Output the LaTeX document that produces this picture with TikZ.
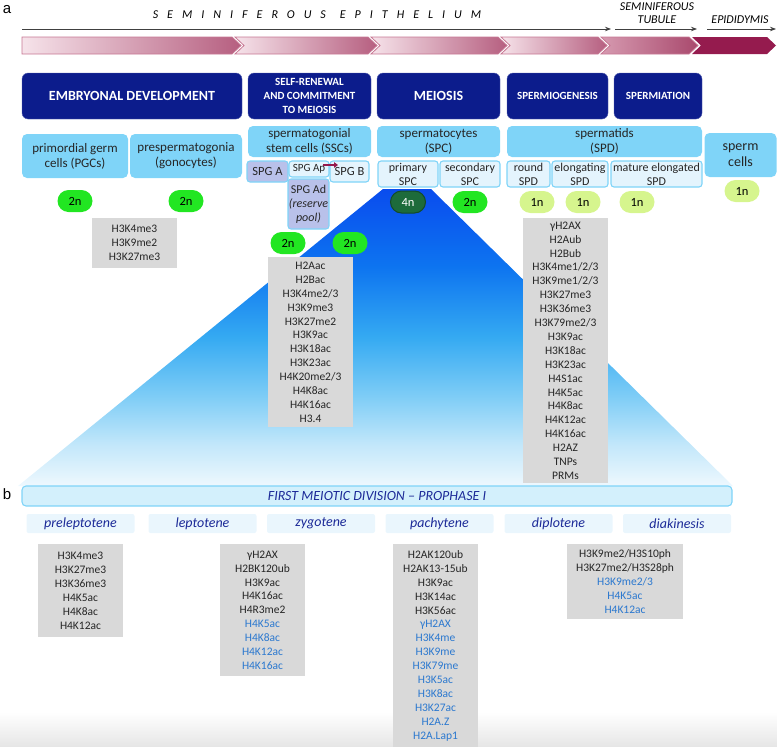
\documentclass[tikz,border=0pt]{standalone}
\usepackage{fontspec}
\setmainfont{Carlito}
\newfontfamily\panelfont{Liberation Sans}
\newfontfamily\trackfont[LetterSpace=75]{Carlito}
\usetikzlibrary{arrows.meta}

\definecolor{navy}{HTML}{0C1C8C}
\definecolor{cellblue}{HTML}{7FD4F8}
\definecolor{subblue}{HTML}{E4F4FD}
\definecolor{lavender}{HTML}{B9C1EA}
\definecolor{markgray}{HTML}{D9D9D9}
\definecolor{markblue}{HTML}{2B78CF}
\definecolor{stagetext}{HTML}{1C2A98}
\definecolor{titlefill}{HTML}{D3F0FC}
\definecolor{phasefill}{HTML}{EAF6FD}
\definecolor{green2n}{HTML}{22E622}
\definecolor{green4n}{HTML}{1D6B3B}
\definecolor{lime1n}{HTML}{D6F58E}
\definecolor{chevL}{HTML}{F6E3EA}
\definecolor{chevM}{HTML}{ECD0DA}
\definecolor{chevR}{HTML}{B65F80}
\definecolor{chevE}{HTML}{C77793}
\definecolor{tubL}{HTML}{D69AB0}
\definecolor{tubR}{HTML}{A9496D}
\definecolor{maroon}{HTML}{951B4E}
\definecolor{triA}{HTML}{EEF8FE}
\definecolor{triB}{HTML}{C2E7FA}
\definecolor{triC}{HTML}{7FCDF6}
\definecolor{triD}{HTML}{35AAF2}
\definecolor{triE}{HTML}{0D74F0}
\definecolor{triF}{HTML}{0A4CEE}

\pgfdeclareverticalshading{pyramid}{100bp}{color(0bp)=(triA); color(25bp)=(triA);
  color(32bp)=(triB); color(40bp)=(triC); color(50bp)=(triD); color(62bp)=(triE);
  color(75bp)=(triF); color(100bp)=(triF)}

\newcommand\hlb[1]{\textcolor{markblue}{#1}}

\begin{document}
\begin{tikzpicture}[x=1pt, y=-1pt,
    header/.style={rectangle, rounded corners=6pt, fill=navy, draw=navy!70!white, text=white,
      font=\bfseries\fontsize{14}{16}\selectfont, align=center, minimum height=46pt, inner sep=1pt},
    cell/.style={rectangle, rounded corners=5pt, fill=cellblue, text=black!85, align=center,
      font=\fontsize{13}{15}\selectfont, inner sep=0pt},
    subcell/.style={rectangle, rounded corners=3pt, fill=subblue, draw=cellblue, line width=1.1pt,
      text=black!85, align=center, font=\fontsize{12}{14}\selectfont, minimum height=26pt, inner sep=0pt},
    ploidy/.style={rectangle, rounded corners=11pt, minimum width=35pt, minimum height=22pt,
      inner sep=0pt, font=\fontsize{12.5}{14}\selectfont},
    diploid/.style={fill=green2n, text=black},
    tetraploid/.style={fill=green4n, draw=green4n!70!black, line width=1pt, text=white},
    haploid/.style={fill=lime1n, text=black},
    histone/.style={rectangle, fill=markgray, anchor=north, align=center, minimum width=85pt,
      inner sep=0pt, text=black!85, font=\fontsize{11.5}{13.9}\selectfont},
    phase/.style={rectangle, rounded corners=2pt, fill=phasefill, minimum width=108pt,
      minimum height=19pt, inner sep=0pt, text=stagetext, font=\itshape\fontsize{14}{16}\selectfont}]
  \useasboundingbox (0,0) rectangle (777,747);
  \shade[top color=white, bottom color=black!10] (0,712) rectangle (777,747);

  % panel a: timeline
  \node (pa) at (7,10) [font=\panelfont\fontsize{15}{17}\selectfont] {a};
  \node (epith) at (317,15) [font=\trackfont\itshape\fontsize{12}{14}\selectfont]
    {SEMINIFEROUS\hspace{14pt}EPITHELIUM};
  \node (tubule) at (657,13) [align=center, font=\itshape\fontsize{12}{13}\selectfont] {SEMINIFEROUS\\TUBULE};
  \node (epid) at (740,20) [font=\itshape\fontsize{12}{13}\selectfont] {EPIDIDYMIS};
  \coordinate (e0) at (22,29);  \coordinate (e1) at (611,29);
  \coordinate (t0) at (615,29); \coordinate (t1) at (697,29);
  \coordinate (d0) at (707,29); \coordinate (d1) at (776,29);
  \foreach \p/\q in {e0/e1, t0/t1, d0/d1}
    \draw[-{Stealth[length=6pt,width=4.5pt]}, line width=0.8pt, black!75] (\p) -- (\q);

  \shade[left color=chevL, middle color=chevM, right color=chevR, draw=chevE, line width=0.8pt]
    (22,37) -- (232,37) -- (241,45.5) -- (232,54) -- (22,54) -- cycle;
  \foreach \s/\t in {235/377, 371/507, 501/607}
    \shade[left color=chevL, middle color=chevM, right color=chevR, draw=chevE, line width=0.8pt]
      (\s,37) -- (\t-9,37) -- (\t,45.5) -- (\t-9,54) -- (\s,54) -- (\s+9,45.5) -- cycle;
  \shade[left color=tubL, right color=tubR, draw=chevE, line width=0.8pt]
    (601,37) -- (689,37) -- (698,45.5) -- (689,54) -- (601,54) -- (610,45.5) -- cycle;
  \fill[maroon] (692,37) -- (767,37) -- (776,45.5) -- (767,54) -- (692,54) -- (701,45.5) -- cycle;

  % phases of development
  \node (embryo) at (132,96) [header, minimum width=220pt] {EMBRYONAL DEVELOPMENT};
  \node (renewal) at (309.5,96) [header, minimum width=123pt, font=\bfseries\fontsize{11}{13.7}\selectfont]
    {SELF-RENEWAL\\AND COMMITMENT\\TO MEIOSIS};
  \node (meiosis) at (438.5,96) [header, minimum width=123pt] {MEIOSIS};
  \node (spermio) at (557.5,96) [header, minimum width=101pt, font=\bfseries\fontsize{11}{13}\selectfont] {SPERMIOGENESIS};
  \node (spermia) at (658,96) [header, minimum width=88pt, font=\bfseries\fontsize{11}{13}\selectfont] {SPERMIATION};

  % meiotic pyramid
  \shade[shading=pyramid] (383,189) -- (431,189) -- (733,486) -- (18,486) -- cycle;

  % cell types
  \node (pgc) at (75,156) [cell, minimum width=106pt, minimum height=44pt] {primordial germ\\cells (PGCs)};
  \node (prespg) at (186,156) [cell, minimum width=112pt, minimum height=44pt] {prespermatogonia\\(gonocytes)};
  \node (ssc) at (309.5,141.5) [cell, minimum width=123pt, minimum height=31pt] {spermatogonial\\stem cells (SSCs)};
  \node (spc) at (438.5,141.5) [cell, minimum width=123pt, minimum height=31pt] {spermatocytes\\(SPC)};
  \node (spd) at (604.5,141.5) [cell, minimum width=195pt, minimum height=31pt] {spermatids\\(SPD)};
  \node (sperm) at (740.5,155) [cell, minimum width=72pt, minimum height=44pt, font=\fontsize{14}{16}\selectfont] {sperm\\cells};

  \node (spga) at (267.5,171.5) [subcell, fill=lavender, minimum width=41pt, minimum height=21pt,
    font=\fontsize{12.5}{14}\selectfont] {SPG A};
  \node (spgap) at (309,169) [subcell, minimum width=40pt, minimum height=16pt,
    font=\fontsize{11}{12}\selectfont] {SPG Ap};
  \node (spgb) at (349.5,171.5) [subcell, minimum width=39pt, minimum height=21pt,
    font=\fontsize{12.5}{14}\selectfont] {SPG B};
  \node (spgad) at (308.5,204) [subcell, fill=lavender, minimum width=41pt, minimum height=50pt]
    {SPG Ad\\\textit{(reserve}\\\textit{pool)}};
  \coordinate (apa) at (323,165); \coordinate (apb) at (338,165);
  \draw[-{Triangle[length=4pt,width=5.5pt]}, line width=2.2pt, maroon] (apa) -- (apb);

  \node (prim) at (408,174) [subcell, minimum width=60pt] {primary\\SPC};
  \node (sec) at (470,174) [subcell, minimum width=60pt] {secondary\\SPC};
  \node (round) at (528.5,174) [subcell, minimum width=43pt] {round\\SPD};
  \node (elong) at (580,174) [subcell, minimum width=56pt] {elongating\\SPD};
  \node (mature) at (656.5,174) [subcell, minimum width=91pt] {mature elongated\\SPD};

  % ploidy
  \foreach \n/\x/\y/\s/\t in {pl1/75/201/diploid/2n, pl2/186/201/diploid/2n, pl3/288/243/diploid/2n,
      pl4/350/243/diploid/2n, pl5/408/202/tetraploid/4n, pl6/470/202/diploid/2n,
      pl7/537/202/haploid/1n, pl8/583/202/haploid/1n, pl9/637/202/haploid/1n, pl10/742/191/haploid/1n}
    \node (\n) at (\x,\y) [ploidy, \s] {\t};

  % histone marks
  \node (gpgc) at (134.5,218) [histone, minimum height=50pt] {H3K4me3\\H3K9me2\\H3K27me3};
  \node (gssc) at (310.5,257) [histone, minimum height=170pt]
    {H2Aac\\H2Bac\\H3K4me2/3\\H3K9me3\\H3K27me2\\H3K9ac\\H3K18ac\\H3K23ac\\H4K20me2/3\\H4K8ac\\H4K16ac\\H3.4};
  \node (gspd) at (565.5,218) [histone, minimum height=265pt]
    {γH2AX\\H2Aub\\H2Bub\\H3K4me1/2/3\\H3K9me1/2/3\\H3K27me3\\H3K36me3\\H3K79me2/3\\H3K9ac\\H3K18ac\\H3K23ac\\H4S1ac\\H4K5ac\\H4K8ac\\H4K12ac\\H4K16ac\\H2AZ\\TNPs\\PRMs};

  % panel b: prophase I
  \node (pb) at (7,494) [font=\panelfont\fontsize{15}{17}\selectfont] {b};
  \node (prophase) at (377,496) [rectangle, rounded corners=4pt, fill=titlefill, draw=cellblue, line width=1.1pt,
    minimum width=710pt, minimum height=20pt, inner sep=0pt, text=stagetext,
    font=\itshape\fontsize{14}{16}\selectfont] {FIRST MEIOTIC DIVISION -- PROPHASE I};
  \foreach \n/\x/\t in {prelep/80.5/preleptotene, lep/202.5/leptotene, zyg/321/zygotene,
      pach/439.5/pachytene, dip/558.5/diplotene, diak/677/diakinesis}
    \node (\n) at (\x,523.5) [phase] {\t};

  \node (gpre) at (80.5,544) [histone, minimum height=93pt]
    {H3K4me3\\H3K27me3\\H3K36me3\\H4K5ac\\H4K8ac\\H4K12ac};
  \node (glep) at (262.5,544) [histone, minimum height=132pt]
    {γH2AX\\H2BK120ub\\H3K9ac\\H4K16ac\\H4R3me2\\\hlb{H4K5ac}\\\hlb{H4K8ac}\\\hlb{H4K12ac}\\\hlb{H4K16ac}};
  \node (gpach) at (435.5,544) [histone, minimum height=203pt]
    {H2AK120ub\\H2AK13-15ub\\H3K9ac\\H3K14ac\\H3K56ac\\\hlb{γH2AX}\\\hlb{H3K4me}\\\hlb{H3K9me}\\\hlb{H3K79me}\\\hlb{H3K5ac}\\\hlb{H3K8ac}\\\hlb{H3K27ac}\\\hlb{H2A.Z}\\\hlb{H2A.Lap1}};
  \node (gdip) at (625,544) [histone, minimum width=116pt, minimum height=75pt]
    {H3K9me2/H3S10ph\\H3K27me2/H3S28ph\\\hlb{H3K9me2/3}\\\hlb{H4K5ac}\\\hlb{H4K12ac}};
\end{tikzpicture}
\end{document}
